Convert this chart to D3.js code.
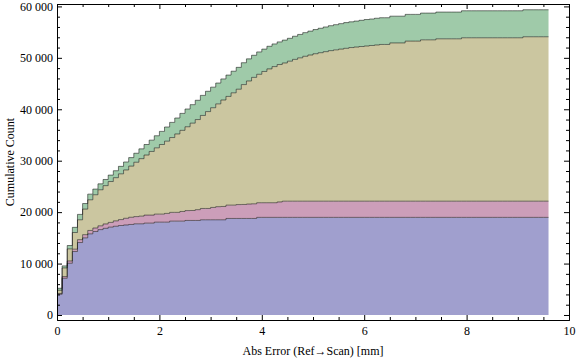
<!DOCTYPE html>
<html>
<head>
<meta charset="utf-8">
<script src="https://cdn.jsdelivr.net/npm/d3@7"></script>
<style>
  body { margin: 0; background: #fff; }
  text { font-family: "Liberation Serif", "DejaVu Serif", serif; }
</style>
</head>
<body>
<div id="main"></div>
<script>
/*********************************************************
 * Data: cumulative counts per bin (bin width 0.1 mm)
 *********************************************************/

const binWidth = 0.1;
const seriesKeys = ['a', 'b', 'c', 'd'];
const seriesColors = ['#a09fce', '#cc9eb9', '#cbc6a0', '#9fcaa9'];

const countsA = [
  4030, 7140, 10060, 12340, 14090, 15000, 15780, 16230, 16600, 16850,
  17080, 17250, 17400, 17500, 17600, 17730, 17730, 17860, 17860, 18050,
  18050, 18050, 18250, 18250, 18250, 18380, 18380, 18380, 18510, 18510,
  18510, 18510, 18510, 18770, 18770, 18770, 18770, 18770, 18770, 18980,
  18980, 18980, 18980, 18980, 18980, 18980, 18980, 18980, 18980, 18980,
  18980, 18980, 18980, 18980, 18980, 18980, 18980, 18980, 18980, 18980,
  18980, 18980, 18980, 18980, 18980, 18980, 18980, 18980, 18980, 18980,
  18980, 18980, 18980, 18980, 18980, 18980, 18980, 18980, 18980, 18980,
  18980, 18980, 18980, 18980, 18980, 18980, 18980, 18980, 18980, 18980,
  18980, 18980, 18980, 18980, 18980, 18980
];

const countsB = [
  160, 330, 450, 460, 560, 620, 660, 680, 740, 850,
  920, 1050, 1150, 1300, 1400, 1400, 1490, 1560, 1560, 1560,
  1560, 1700, 1700, 1700, 1880, 1920, 1940, 2100, 2200, 2200,
  2400, 2550, 2590, 2590, 2590, 2700, 2720, 2800, 2850, 2850,
  2850, 2850, 2850, 3000, 3150, 3150, 3150, 3150, 3150, 3150,
  3150, 3150, 3150, 3150, 3150, 3150, 3150, 3150, 3150, 3150,
  3150, 3150, 3150, 3150, 3150, 3150, 3150, 3150, 3150, 3150,
  3150, 3150, 3150, 3150, 3150, 3150, 3150, 3150, 3150, 3150,
  3150, 3150, 3150, 3150, 3150, 3150, 3150, 3150, 3150, 3150,
  3150, 3150, 3150, 3150, 3150, 3150
];

const countsC = [
  610, 1680, 2350, 3240, 3860, 4970, 5960, 6470, 7010, 7450,
  7950, 8400, 8900, 9400, 9950, 10570, 11180, 11680, 12380, 12890,
  13540, 14050, 14550, 15250, 15770, 16300, 16980, 17520, 18090, 18840,
  19390, 19990, 20700, 21140, 21840, 22430, 23310, 23930, 24580, 24970,
  25520, 26020, 26470, 26720, 26870, 27220, 27570, 27870, 28170, 28420,
  28670, 28870, 29070, 29270, 29420, 29570, 29720, 29870, 29970, 30070,
  30170, 30270, 30370, 30470, 30470, 30770, 30770, 30770, 31120, 31120,
  31120, 31370, 31370, 31370, 31570, 31570, 31570, 31570, 31570, 31770,
  31770, 31770, 31770, 31770, 31770, 31770, 31770, 31770, 31770, 31770,
  31770, 31970, 31970, 31970, 31970, 31970
];

const countsD = [
  400, 400, 650, 1000, 1050, 1080, 1100, 1100, 1150, 1200,
  1250, 1350, 1450, 1550, 1650, 1750, 1900, 2050, 2200, 2350,
  2550, 2750, 2950, 3100, 3300, 3450, 3600, 3750, 3900, 3950,
  4000, 4050, 4100, 4150, 4200, 4250, 4250, 4300, 4300, 4350,
  4350, 4400, 4400, 4400, 4450, 4450, 4500, 4550, 4600, 4650,
  4700, 4750, 4800, 4850, 4900, 4950, 5000, 5000, 5050, 5100,
  5150, 5150, 5200, 5200, 5200, 5200, 5200, 5200, 5200, 5200,
  5200, 5200, 5200, 5200, 5200, 5200, 5200, 5200, 5200, 5250,
  5250, 5250, 5250, 5250, 5250, 5250, 5250, 5250, 5250, 5250,
  5250, 5250, 5250, 5250, 5250, 5250
];

const xTicks = [0, 2, 4, 6, 8, 10];
const yTicks = [0, 10000, 20000, 30000, 40000, 50000, 60000];
const xLabel = 'Abs Error (Ref\u2192Scan) [mm]';
const yLabel = 'Cumulative Count';

/*********************************************************
 * Layout
 *********************************************************/

const svgWidth = 576;
const svgHeight = 361;
const frame = { l: 57, r: 569, t: 4, b: 320 };

const svg = d3
  .select('#main')
  .append('svg')
  .attr('width', svgWidth)
  .attr('height', svgHeight);

const x = d3.scaleLinear().domain([0, 10]).range([frame.l, frame.r]);
const y = d3.scaleLinear().domain([-973, 60468]).range([frame.b, frame.t]);

// build the table, one row per bin start plus the closing edge
const table = countsA.map((v, i) => ({
  x: i * binWidth,
  a: v,
  b: countsB[i],
  c: countsC[i],
  d: countsD[i]
}));
const last = table[table.length - 1];
table.push(Object.assign({}, last, { x: table.length * binWidth }));

const layers = d3.stack().keys(seriesKeys)(table);

/*********************************************************
 * Stacked step areas
 *********************************************************/

const area = d3
  .area()
  .curve(d3.curveStepAfter)
  .x(d => x(d.data.x))
  .y0(d => y(d[0]))
  .y1(d => y(d[1]));

const topLine = d3
  .line()
  .curve(d3.curveStepAfter)
  .x(d => x(d.data.x))
  .y(d => y(d[1]));

const plot = svg.append('g').attr('class', 'plot');

plot
  .selectAll('.area')
  .data(layers)
  .enter()
  .append('path')
  .attr('class', 'area')
  .attr('d', area)
  .style('fill', (d, i) => seriesColors[i]);

plot
  .selectAll('.edge')
  .data(layers)
  .enter()
  .append('path')
  .attr('class', 'edge')
  .attr('d', topLine)
  .style('fill', 'none')
  .style('stroke', '#000')
  .style('stroke-opacity', 0.5)
  .style('stroke-width', 1);

/*********************************************************
 * Frame, ticks and labels
 *********************************************************/

const fmt = d => d3.format(',')(d).replace(/,/g, ' ');
const xMinor = d3.range(0, 10.01, 0.5).filter(v => v % 2 !== 0);
const yMinor = d3.range(0, 60001, 2000).filter(v => v % 10000 !== 0);

function styleAxis(g) {
  g.selectAll('path.domain').style('stroke', '#000');
  g.selectAll('line').style('stroke', '#000');
  g.selectAll('text')
    .style('font-family', '"Liberation Serif", serif')
    .style('font-size', '12px')
    .style('fill', '#000');
}

// bottom
svg.append('g')
  .attr('transform', `translate(0,${frame.b})`)
  .call(d3.axisBottom(x).tickValues(xTicks).tickSize(-5).tickSizeOuter(0).tickPadding(6).tickFormat(fmt))
  .call(styleAxis);
svg.append('g')
  .attr('transform', `translate(0,${frame.b})`)
  .call(d3.axisBottom(x).tickValues(xMinor).tickSize(-3).tickSizeOuter(0).tickFormat(''))
  .call(styleAxis);

// top
svg.append('g')
  .attr('transform', `translate(0,${frame.t})`)
  .call(d3.axisTop(x).tickValues(xTicks).tickSize(-5).tickSizeOuter(0).tickFormat(''))
  .call(styleAxis);
svg.append('g')
  .attr('transform', `translate(0,${frame.t})`)
  .call(d3.axisTop(x).tickValues(xMinor).tickSize(-3).tickSizeOuter(0).tickFormat(''))
  .call(styleAxis);

// left
svg.append('g')
  .attr('transform', `translate(${frame.l},0)`)
  .call(d3.axisLeft(y).tickValues(yTicks).tickSize(-5).tickSizeOuter(0).tickPadding(4).tickFormat(fmt))
  .call(styleAxis);
svg.append('g')
  .attr('transform', `translate(${frame.l},0)`)
  .call(d3.axisLeft(y).tickValues(yMinor).tickSize(-3).tickSizeOuter(0).tickFormat(''))
  .call(styleAxis);

// right
svg.append('g')
  .attr('transform', `translate(${frame.r},0)`)
  .call(d3.axisRight(y).tickValues(yTicks).tickSize(-5).tickSizeOuter(0).tickFormat(''))
  .call(styleAxis);
svg.append('g')
  .attr('transform', `translate(${frame.r},0)`)
  .call(d3.axisRight(y).tickValues(yMinor).tickSize(-3).tickSizeOuter(0).tickFormat(''))
  .call(styleAxis);

// axis titles
svg.append('text')
  .attr('x', (frame.l + frame.r) / 2)
  .attr('y', 355)
  .attr('text-anchor', 'middle')
  .style('font-size', '12px')
  .text(xLabel);

svg.append('text')
  .attr('transform', `translate(14,${(frame.t + frame.b) / 2}) rotate(-90)`)
  .attr('text-anchor', 'middle')
  .style('font-size', '12px')
  .text(yLabel);
</script>
</body>
</html>
